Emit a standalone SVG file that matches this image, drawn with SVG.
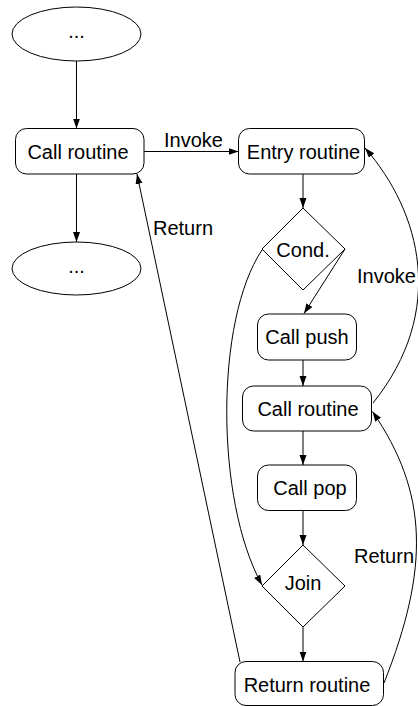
<svg xmlns="http://www.w3.org/2000/svg" width="418" height="706" viewBox="0 0 418 706">
<style>
.n{fill:#fff;stroke:#000;stroke-width:1}
.t{font-family:"Liberation Sans",Arial,sans-serif;font-size:20px;fill:#000;text-anchor:middle}
.e{fill:none;stroke:#000;stroke-width:1;marker-end:url(#ah)}
.l{font-family:"Liberation Sans",Arial,sans-serif;font-size:20px;fill:#000}
</style>
<defs>
<marker id="ah" markerUnits="userSpaceOnUse" markerWidth="11" markerHeight="8" refX="10" refY="3.5" orient="auto">
<path d="M0,0 L10,3.5 L0,7 z" fill="#000"/>
</marker>
</defs>
<rect width="418" height="706" fill="#fff"/>
<g id="edges">
<path class="e" d="M76.5,61 L76.5,128.5"/>
<path class="e" d="M76.5,174 L76.5,242"/>
<path class="e" d="M144,151.5 L238.5,151.5"/>
<path class="e" d="M303,174 L303,208"/>
<path class="e" d="M345,249 L304,313.5"/>
<path class="e" d="M262,250 C215,320 215,500 262,585"/>
<path class="e" d="M303,360 L303,386"/>
<path class="e" d="M373,403 C447,311 421,212 365,148"/>
<path class="e" d="M303,431 L303,465"/>
<path class="e" d="M303,510.5 L303,545"/>
<path class="e" d="M303,627 L303,661.5"/>
<path class="e" d="M384,683 C430,567 428,492.5 372.5,411.5"/>
<path class="e" d="M240,662 L137,174"/>
<text class="l" x="164" y="147">Invoke</text>
<text class="l" x="153" y="235">Return</text>
<text class="l" x="357" y="283">Invoke</text>
<text class="l" x="354" y="563">Return</text>
</g>
<g id="start">
<ellipse class="n" cx="76.5" cy="34" rx="64.5" ry="27"/>
<text class="t" x="76.5" y="38">...</text>
</g>
<g id="call1">
<rect class="n" x="15.5" y="128.5" width="128.5" height="45.5" rx="11"/>
<text class="t" x="78" y="159">Call routine</text>
</g>
<g id="end">
<ellipse class="n" cx="76.5" cy="268.5" rx="64.5" ry="26.5"/>
<text class="t" x="76.5" y="273">...</text>
</g>
<g id="entry">
<rect class="n" x="238.5" y="128.5" width="126" height="45.5" rx="11"/>
<text class="t" x="303.5" y="159">Entry routine</text>
</g>
<g id="cond">
<polygon class="n" points="303,208 345,249 303,290 262,249"/>
<text class="t" x="303" y="257">Cond.</text>
</g>
<g id="push">
<rect class="n" x="257.5" y="314" width="99" height="46" rx="11"/>
<text class="t" x="307" y="344">Call push</text>
</g>
<g id="call2">
<rect class="n" x="242.5" y="386" width="129" height="45" rx="11"/>
<text class="t" x="308" y="416">Call routine</text>
</g>
<g id="pop">
<rect class="n" x="257.5" y="465" width="99" height="45.5" rx="11"/>
<text class="t" x="310" y="495">Call pop</text>
</g>
<g id="join">
<polygon class="n" points="303,545 345,586 303,627 262,586"/>
<text class="t" x="303" y="590">Join</text>
</g>
<g id="ret">
<rect class="n" x="235" y="661.5" width="148.5" height="44" rx="11"/>
<text class="t" x="307" y="692">Return routine</text>
</g>
</svg>
